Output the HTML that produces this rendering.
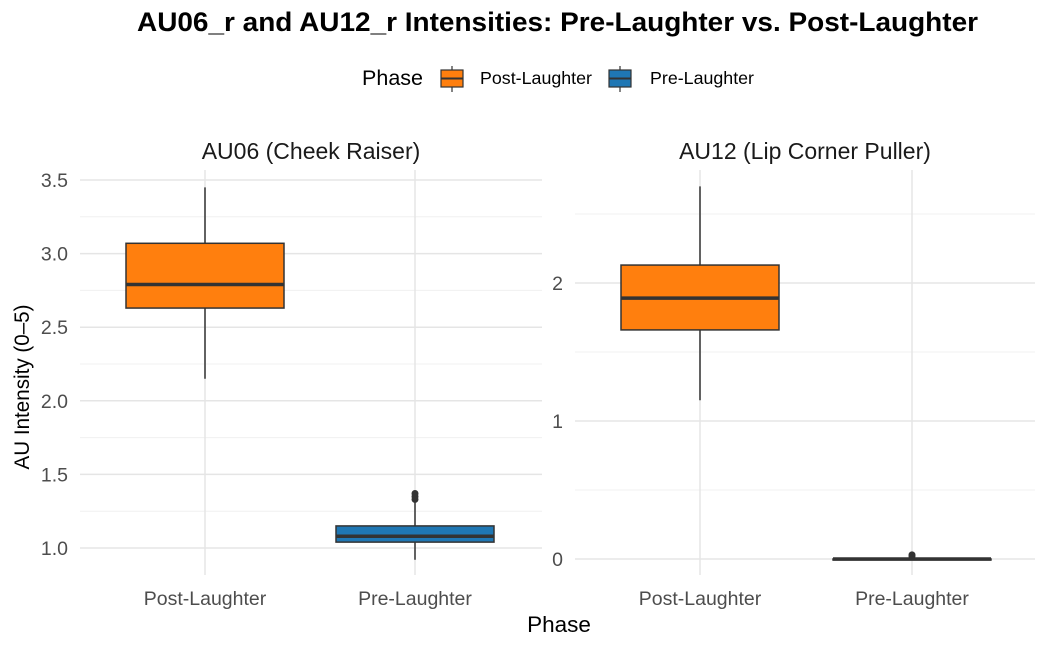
<!DOCTYPE html>
<html><head><meta charset="utf-8"><style>
body{margin:0;background:#fff;font-family:"Liberation Sans",sans-serif}
</style></head><body>
<svg width="1050" height="648" xmlns="http://www.w3.org/2000/svg" font-family="Liberation Sans, sans-serif">
<text x="137" y="31" textLength="841" lengthAdjust="spacingAndGlyphs" font-size="27" font-weight="bold" fill="#000">AU06_r and AU12_r Intensities: Pre-Laughter vs. Post-Laughter</text>
<g>
<text x="362" y="85" textLength="61" lengthAdjust="spacingAndGlyphs" font-size="21" fill="#000">Phase</text>
<g><line x1="452" y1="66" x2="452" y2="92" stroke="#333" stroke-width="1.2"/><rect x="441" y="70" width="22" height="17" fill="#FF7F0E" stroke="#333" stroke-width="1.2"/><line x1="441" y1="78.5" x2="463" y2="78.5" stroke="#333" stroke-width="2"/><text x="480" y="84" textLength="112" lengthAdjust="spacingAndGlyphs" font-size="17.5">Post-Laughter</text></g>
<g><line x1="620" y1="66" x2="620" y2="92" stroke="#333" stroke-width="1.2"/><rect x="609" y="70" width="22" height="17" fill="#1F77B4" stroke="#333" stroke-width="1.2"/><line x1="609" y1="78.5" x2="631" y2="78.5" stroke="#333" stroke-width="2"/><text x="650" y="84" textLength="104" lengthAdjust="spacingAndGlyphs" font-size="17.5">Pre-Laughter</text></g>
</g>
<text x="29" y="387" font-size="21" text-anchor="middle" textLength="165" lengthAdjust="spacingAndGlyphs" transform="rotate(-90 29 387)">AU Intensity (0–5)</text>
<text x="559" y="632" font-size="22.5" text-anchor="middle">Phase</text>
<g id="panels"></g>
</svg>
<script>
const categories=["Post-Laughter","Pre-Laughter"];
const au06Stats=[[2.15,2.63,2.79,3.07,3.45],[0.92,1.04,1.08,1.15,1.31]];
const au06Outliers=[[],[1.33,1.35,1.37]];
const au12Stats=[[1.15,1.66,1.89,2.13,2.7],[0,0,0,0,0.01]];
const au12Outliers=[[],[0.02,0.03]];
const au06Ticks=[1.0,1.5,2.0,2.5,3.0,3.5];
const au12Ticks=[0,1,2];
const colors=["#FF7F0E","#1F77B4"];
const NS="http://www.w3.org/2000/svg";
const g=document.getElementById('panels');
function mk(tag,a,p){const e=document.createElementNS(NS,tag);for(const k in a)e.setAttribute(k,a[k]);(p||g).appendChild(e);return e;}
function panel(name,title,x0,x1,yTop,yBot,dmin,dmax,ticks,minor,fmt,stats,outs,xs){
  const y=v=>yBot-(v-dmin)/(dmax-dmin)*(yBot-yTop);
  const grp=mk('g',{});
  
  
  const t=mk('text',{x:(x0+x1)/2,y:159,'text-anchor':'middle','font-size':23,fill:'#1a1a1a'},grp);t.textContent=title;
  
  minor.forEach(v=>mk('line',{x1:x0,x2:x1,y1:y(v),y2:y(v),stroke:'#f0f0f0','stroke-width':1},grp));
  ticks.forEach(v=>{mk('line',{x1:x0,x2:x1,y1:y(v),y2:y(v),stroke:'#e5e5e5','stroke-width':1.5},grp);
    const l=mk('text',{x:x0-12,y:y(v)+7,'text-anchor':'end','font-size':19.5,fill:'#4d4d4d'},grp);l.textContent=fmt(v);
    });
  xs.forEach((cx,i)=>{mk('line',{x1:cx,x2:cx,y1:170,y2:575,stroke:'#e5e5e5','stroke-width':1.5},grp);
    const l=mk('text',{x:cx,y:605,'text-anchor':'middle','font-size':19.5,fill:'#4d4d4d'},grp);l.textContent=categories[i];
    });
  stats.forEach((s,i)=>{const cx=xs[i],w=158;
    const b=mk('g',{},grp);
    mk('line',{x1:cx,x2:cx,y1:y(s[0]),y2:y(s[4]),stroke:'#333','stroke-width':1.5},b);
    mk('rect',{x:cx-w/2,y:y(s[3]),width:w,height:Math.max(y(s[1])-y(s[3]),1),fill:colors[i],stroke:'#333','stroke-width':1.5},b);
    mk('line',{x1:cx-w/2,x2:cx+w/2,y1:y(s[2]),y2:y(s[2]),stroke:'#333','stroke-width':3.5},b);
    outs[i].forEach(o=>mk('circle',{cx:cx,cy:y(o),r:3.5,fill:'#333'},b));
  });
}
panel('au06','AU06 (Cheek Raiser)',80,542,180,548,1.0,3.5,au06Ticks,[1.25,1.75,2.25,2.75,3.25],v=>v.toFixed(1),au06Stats,au06Outliers,[205,415]);
panel('au12','AU12 (Lip Corner Puller)',575,1035,283,559,0,2,au12Ticks,[0.5,1.5,2.5],v=>String(v),au12Stats,au12Outliers,[700,912]);
</script>
</body></html>
